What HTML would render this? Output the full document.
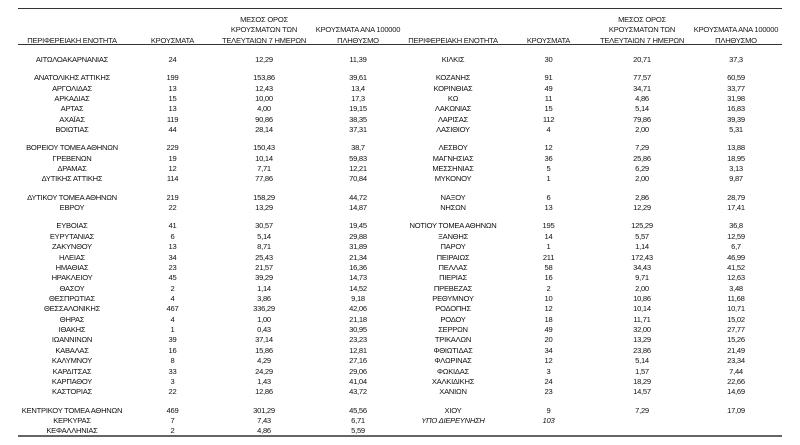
<!DOCTYPE html>
<html>
<head>
<meta charset="utf-8">
<style>
html,body{margin:0;padding:0;background:#fff;}
body{width:800px;height:445px;position:relative;overflow:hidden;font-family:"Liberation Sans","Noto Sans CJK SC",sans-serif;font-size:7.6px;letter-spacing:-0.25px;color:#111;}
.line{position:absolute;left:18px;width:764px;}
.h{position:absolute;width:160px;text-align:center;line-height:10.3px;color:#1a1a1a;}
.tbl{position:absolute;left:0;top:54.8px;width:800px;}
.r{position:relative;height:10.36px;}
.g{height:8px;}
.r span{position:absolute;top:0;width:160px;text-align:center;line-height:10.36px;white-space:nowrap;}
.a{left:-8px}.b{left:92.5px}.c{left:184px}.d{left:278px}
.R .a{left:373px}.R .b{left:468.5px}.R .c{left:562px}.R .d{left:656px}
.i{font-style:italic;}
</style>
</head>
<body>
<div class="line" style="top:8px;height:1px;background:#333;"></div>
<div class="line" style="top:44px;height:1px;background:#333;"></div>
<div class="line" style="top:435px;height:2px;background:#666;"></div>

<!-- headers left -->
<div class="h" style="left:-8px;top:35.75px;">ΠΕΡΙΦΕΡΕΙΑΚΗ ΕΝΟΤΗΤΑ</div>
<div class="h" style="left:92.5px;top:35.75px;">ΚΡΟΥΣΜΑΤΑ</div>
<div class="h" style="left:184px;top:15.15px;">ΜΕΣΟΣ ΟΡΟΣ<br>ΚΡΟΥΣΜΑΤΩΝ ΤΩΝ<br>ΤΕΛΕΥΤΑΙΩΝ 7 ΗΜΕΡΩΝ</div>
<div class="h" style="left:278px;top:25.45px;">ΚΡΟΥΣΜΑΤΑ ΑΝΑ 100000<br>ΠΛΗΘΥΣΜΟ</div>
<!-- headers right -->
<div class="h" style="left:373px;top:35.75px;">ΠΕΡΙΦΕΡΕΙΑΚΗ ΕΝΟΤΗΤΑ</div>
<div class="h" style="left:468.5px;top:35.75px;">ΚΡΟΥΣΜΑΤΑ</div>
<div class="h" style="left:562px;top:15.15px;">ΜΕΣΟΣ ΟΡΟΣ<br>ΚΡΟΥΣΜΑΤΩΝ ΤΩΝ<br>ΤΕΛΕΥΤΑΙΩΝ 7 ΗΜΕΡΩΝ</div>
<div class="h" style="left:656px;top:25.45px;">ΚΡΟΥΣΜΑΤΑ ΑΝΑ 100000<br>ΠΛΗΘΥΣΜΟ</div>

<div class="tbl">
<div class="r"><span class="a">ΑΙΤΩΛΟΑΚΑΡΝΑΝΙΑΣ</span><span class="b">24</span><span class="c">12,29</span><span class="d">11,39</span></div>
<div class="g"></div>
<div class="r"><span class="a">ΑΝΑΤΟΛΙΚΗΣ ΑΤΤΙΚΗΣ</span><span class="b">199</span><span class="c">153,86</span><span class="d">39,61</span></div>
<div class="r"><span class="a">ΑΡΓΟΛΙΔΑΣ</span><span class="b">13</span><span class="c">12,43</span><span class="d">13,4</span></div>
<div class="r"><span class="a">ΑΡΚΑΔΙΑΣ</span><span class="b">15</span><span class="c">10,00</span><span class="d">17,3</span></div>
<div class="r"><span class="a">ΑΡΤΑΣ</span><span class="b">13</span><span class="c">4,00</span><span class="d">19,15</span></div>
<div class="r"><span class="a">ΑΧΑΪΑΣ</span><span class="b">119</span><span class="c">90,86</span><span class="d">38,35</span></div>
<div class="r"><span class="a">ΒΟΙΩΤΙΑΣ</span><span class="b">44</span><span class="c">28,14</span><span class="d">37,31</span></div>
<div class="g"></div>
<div class="r"><span class="a">ΒΟΡΕΙΟΥ ΤΟΜΕΑ ΑΘΗΝΩΝ</span><span class="b">229</span><span class="c">150,43</span><span class="d">38,7</span></div>
<div class="r"><span class="a">ΓΡΕΒΕΝΩΝ</span><span class="b">19</span><span class="c">10,14</span><span class="d">59,83</span></div>
<div class="r"><span class="a">ΔΡΑΜΑΣ</span><span class="b">12</span><span class="c">7,71</span><span class="d">12,21</span></div>
<div class="r"><span class="a">ΔΥΤΙΚΗΣ ΑΤΤΙΚΗΣ</span><span class="b">114</span><span class="c">77,86</span><span class="d">70,84</span></div>
<div class="g"></div>
<div class="r"><span class="a">ΔΥΤΙΚΟΥ ΤΟΜΕΑ ΑΘΗΝΩΝ</span><span class="b">219</span><span class="c">158,29</span><span class="d">44,72</span></div>
<div class="r"><span class="a">ΕΒΡΟΥ</span><span class="b">22</span><span class="c">13,29</span><span class="d">14,87</span></div>
<div class="g"></div>
<div class="r"><span class="a">ΕΥΒΟΙΑΣ</span><span class="b">41</span><span class="c">30,57</span><span class="d">19,45</span></div>
<div class="r"><span class="a">ΕΥΡΥΤΑΝΙΑΣ</span><span class="b">6</span><span class="c">5,14</span><span class="d">29,88</span></div>
<div class="r"><span class="a">ΖΑΚΥΝΘΟΥ</span><span class="b">13</span><span class="c">8,71</span><span class="d">31,89</span></div>
<div class="r"><span class="a">ΗΛΕΙΑΣ</span><span class="b">34</span><span class="c">25,43</span><span class="d">21,34</span></div>
<div class="r"><span class="a">ΗΜΑΘΙΑΣ</span><span class="b">23</span><span class="c">21,57</span><span class="d">16,36</span></div>
<div class="r"><span class="a">ΗΡΑΚΛΕΙΟΥ</span><span class="b">45</span><span class="c">39,29</span><span class="d">14,73</span></div>
<div class="r"><span class="a">ΘΑΣΟΥ</span><span class="b">2</span><span class="c">1,14</span><span class="d">14,52</span></div>
<div class="r"><span class="a">ΘΕΣΠΡΩΤΙΑΣ</span><span class="b">4</span><span class="c">3,86</span><span class="d">9,18</span></div>
<div class="r"><span class="a">ΘΕΣΣΑΛΟΝΙΚΗΣ</span><span class="b">467</span><span class="c">336,29</span><span class="d">42,06</span></div>
<div class="r"><span class="a">ΘΗΡΑΣ</span><span class="b">4</span><span class="c">1,00</span><span class="d">21,18</span></div>
<div class="r"><span class="a">ΙΘΑΚΗΣ</span><span class="b">1</span><span class="c">0,43</span><span class="d">30,95</span></div>
<div class="r"><span class="a">ΙΩΑΝΝΙΝΩΝ</span><span class="b">39</span><span class="c">37,14</span><span class="d">23,23</span></div>
<div class="r"><span class="a">ΚΑΒΑΛΑΣ</span><span class="b">16</span><span class="c">15,86</span><span class="d">12,81</span></div>
<div class="r"><span class="a">ΚΑΛΥΜΝΟΥ</span><span class="b">8</span><span class="c">4,29</span><span class="d">27,16</span></div>
<div class="r"><span class="a">ΚΑΡΔΙΤΣΑΣ</span><span class="b">33</span><span class="c">24,29</span><span class="d">29,06</span></div>
<div class="r"><span class="a">ΚΑΡΠΑΘΟΥ</span><span class="b">3</span><span class="c">1,43</span><span class="d">41,04</span></div>
<div class="r"><span class="a">ΚΑΣΤΟΡΙΑΣ</span><span class="b">22</span><span class="c">12,86</span><span class="d">43,72</span></div>
<div class="g"></div>
<div class="r"><span class="a">ΚΕΝΤΡΙΚΟΥ ΤΟΜΕΑ ΑΘΗΝΩΝ</span><span class="b">469</span><span class="c">301,29</span><span class="d">45,56</span></div>
<div class="r"><span class="a">ΚΕΡΚΥΡΑΣ</span><span class="b">7</span><span class="c">7,43</span><span class="d">6,71</span></div>
<div class="r"><span class="a">ΚΕΦΑΛΛΗΝΙΑΣ</span><span class="b">2</span><span class="c">4,86</span><span class="d">5,59</span></div>
</div>

<div class="tbl R">
<div class="r"><span class="a">ΚΙΛΚΙΣ</span><span class="b">30</span><span class="c">20,71</span><span class="d">37,3</span></div>
<div class="g"></div>
<div class="r"><span class="a">ΚΟΖΑΝΗΣ</span><span class="b">91</span><span class="c">77,57</span><span class="d">60,59</span></div>
<div class="r"><span class="a">ΚΟΡΙΝΘΙΑΣ</span><span class="b">49</span><span class="c">34,71</span><span class="d">33,77</span></div>
<div class="r"><span class="a">ΚΩ</span><span class="b">11</span><span class="c">4,86</span><span class="d">31,98</span></div>
<div class="r"><span class="a">ΛΑΚΩΝΙΑΣ</span><span class="b">15</span><span class="c">5,14</span><span class="d">16,83</span></div>
<div class="r"><span class="a">ΛΑΡΙΣΑΣ</span><span class="b">112</span><span class="c">79,86</span><span class="d">39,39</span></div>
<div class="r"><span class="a">ΛΑΣΙΘΙΟΥ</span><span class="b">4</span><span class="c">2,00</span><span class="d">5,31</span></div>
<div class="g"></div>
<div class="r"><span class="a">ΛΕΣΒΟΥ</span><span class="b">12</span><span class="c">7,29</span><span class="d">13,88</span></div>
<div class="r"><span class="a">ΜΑΓΝΗΣΙΑΣ</span><span class="b">36</span><span class="c">25,86</span><span class="d">18,95</span></div>
<div class="r"><span class="a">ΜΕΣΣΗΝΙΑΣ</span><span class="b">5</span><span class="c">6,29</span><span class="d">3,13</span></div>
<div class="r"><span class="a">ΜΥΚΟΝΟΥ</span><span class="b">1</span><span class="c">2,00</span><span class="d">9,87</span></div>
<div class="g"></div>
<div class="r"><span class="a">ΝΑΞΟΥ</span><span class="b">6</span><span class="c">2,86</span><span class="d">28,79</span></div>
<div class="r"><span class="a">ΝΗΣΩΝ</span><span class="b">13</span><span class="c">12,29</span><span class="d">17,41</span></div>
<div class="g"></div>
<div class="r"><span class="a">ΝΟΤΙΟΥ ΤΟΜΕΑ ΑΘΗΝΩΝ</span><span class="b">195</span><span class="c">125,29</span><span class="d">36,8</span></div>
<div class="r"><span class="a">ΞΑΝΘΗΣ</span><span class="b">14</span><span class="c">5,57</span><span class="d">12,59</span></div>
<div class="r"><span class="a">ΠΑΡΟΥ</span><span class="b">1</span><span class="c">1,14</span><span class="d">6,7</span></div>
<div class="r"><span class="a">ΠΕΙΡΑΙΩΣ</span><span class="b">211</span><span class="c">172,43</span><span class="d">46,99</span></div>
<div class="r"><span class="a">ΠΕΛΛΑΣ</span><span class="b">58</span><span class="c">34,43</span><span class="d">41,52</span></div>
<div class="r"><span class="a">ΠΙΕΡΙΑΣ</span><span class="b">16</span><span class="c">9,71</span><span class="d">12,63</span></div>
<div class="r"><span class="a">ΠΡΕΒΕΖΑΣ</span><span class="b">2</span><span class="c">2,00</span><span class="d">3,48</span></div>
<div class="r"><span class="a">ΡΕΘΥΜΝΟΥ</span><span class="b">10</span><span class="c">10,86</span><span class="d">11,68</span></div>
<div class="r"><span class="a">ΡΟΔΟΠΗΣ</span><span class="b">12</span><span class="c">10,14</span><span class="d">10,71</span></div>
<div class="r"><span class="a">ΡΟΔΟΥ</span><span class="b">18</span><span class="c">11,71</span><span class="d">15,02</span></div>
<div class="r"><span class="a">ΣΕΡΡΩΝ</span><span class="b">49</span><span class="c">32,00</span><span class="d">27,77</span></div>
<div class="r"><span class="a">ΤΡΙΚΑΛΩΝ</span><span class="b">20</span><span class="c">13,29</span><span class="d">15,26</span></div>
<div class="r"><span class="a">ΦΘΙΩΤΙΔΑΣ</span><span class="b">34</span><span class="c">23,86</span><span class="d">21,49</span></div>
<div class="r"><span class="a">ΦΛΩΡΙΝΑΣ</span><span class="b">12</span><span class="c">5,14</span><span class="d">23,34</span></div>
<div class="r"><span class="a">ΦΩΚΙΔΑΣ</span><span class="b">3</span><span class="c">1,57</span><span class="d">7,44</span></div>
<div class="r"><span class="a">ΧΑΛΚΙΔΙΚΗΣ</span><span class="b">24</span><span class="c">18,29</span><span class="d">22,66</span></div>
<div class="r"><span class="a">ΧΑΝΙΩΝ</span><span class="b">23</span><span class="c">14,57</span><span class="d">14,69</span></div>
<div class="g"></div>
<div class="r"><span class="a">ΧΙΟΥ</span><span class="b">9</span><span class="c">7,29</span><span class="d">17,09</span></div>
<div class="r"><span class="a i">ΥΠΟ ΔΙΕΡΕΥΝΗΣΗ</span><span class="b i">103</span></div>
</div>
</body>
</html>
